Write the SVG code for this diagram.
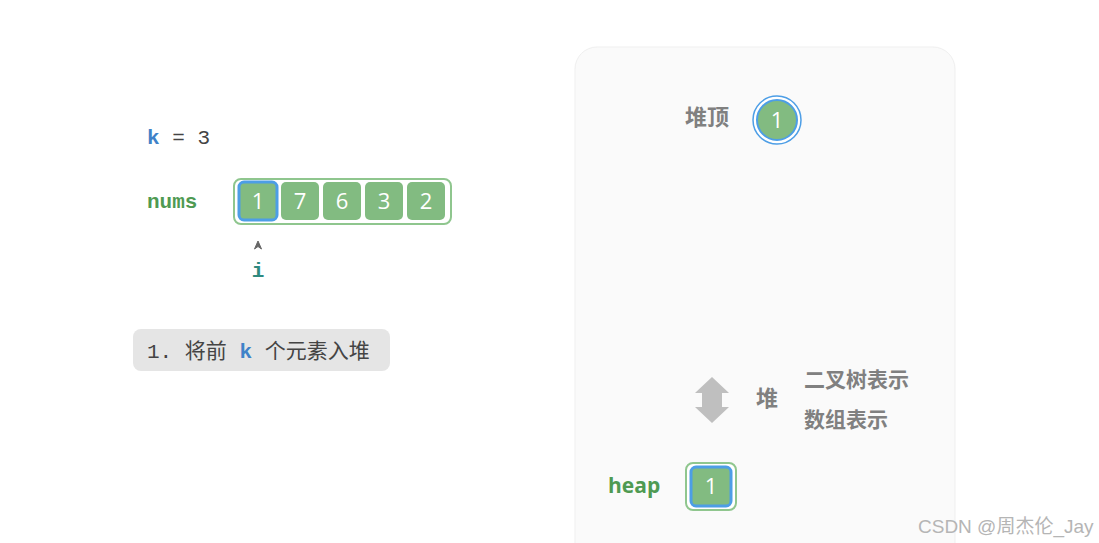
<svg xmlns="http://www.w3.org/2000/svg" width="1099" height="543" viewBox="0 0 1099 543">
<style>
.mono{font-family:"Liberation Mono","DejaVu Sans Mono","Noto Sans CJK SC",monospace}
.cjk{font-family:"Noto Sans CJK SC","Liberation Sans",sans-serif;font-weight:bold;fill:#808080}
.cell{fill:#82bb81;stroke:none}
.num{font-family:"Open Sans","Liberation Sans",sans-serif;font-size:22px;fill:#ffffff;text-anchor:middle}
.green{fill:#4f9a52;font-weight:bold}
</style>
<rect x="0" y="0" width="1099" height="543" fill="#ffffff"/>
<rect x="575" y="47" width="380" height="530" rx="22" fill="#fafafa" stroke="#efefef" stroke-width="1"/>

<g id="k-label">
<text class="mono" x="147" y="144" font-size="21"><tspan fill="#3f82c8" font-weight="bold">k</tspan><tspan fill="#444444"> = 3</tspan></text>
</g>

<g id="nums">
<text class="mono green" x="147" y="208" font-size="21">nums</text>
<rect x="234" y="179" width="217" height="45" rx="7" fill="#ffffff" stroke="#8fc68e" stroke-width="2"/>
<rect class="cell" x="239" y="182" width="38" height="38" rx="5" style="stroke:#4d9ee6;stroke-width:3"/>
<rect class="cell" x="281" y="182" width="38" height="38" rx="5"/>
<rect class="cell" x="323" y="182" width="38" height="38" rx="5"/>
<rect class="cell" x="365" y="182" width="38" height="38" rx="5"/>
<rect class="cell" x="407" y="182" width="38" height="38" rx="5"/>
<text class="num" x="258" y="209">1</text>
<text class="num" x="300" y="209">7</text>
<text class="num" x="342" y="209">6</text>
<text class="num" x="384" y="209">3</text>
<text class="num" x="426" y="209">2</text>
</g>

<g id="pointer-i">
<path d="M254.5 249 L258 241 L261.5 249 L258 246.5 Z" fill="#666666" stroke="#666666" stroke-width="1" stroke-linejoin="round"/>
<text class="mono" x="258" y="277" font-size="21" font-weight="bold" fill="#2f8a7f" text-anchor="middle">i</text>
</g>

<g id="step-label">
<rect x="133" y="329" width="257" height="42" rx="8" fill="#e5e5e5"/>
<text class="mono" x="147" y="358" font-size="21" fill="#444444">1. 将前 <tspan fill="#3f82c8" font-weight="bold">k</tspan> 个元素入堆</text>
</g>

<g id="heap-top">
<text class="cjk" x="685" y="125" font-size="22">堆顶</text>
<circle cx="777" cy="120" r="24" fill="#ffffff" stroke="#4d9ee6" stroke-width="1.5"/>
<circle cx="777" cy="120" r="20" fill="#82bb81" stroke="#4d9ee6" stroke-width="2"/>
<text class="num" x="777" y="128">1</text>
</g>

<g id="connectors">
<polygon points="712,377 729,393 722,393 722,407 729,407 712,423 695,407 702,407 702,393 695,393" fill="#bfbfbf"/>
</g>

<g id="heap-labels">
<text class="cjk" x="756" y="406" font-size="22">堆</text>
<text class="cjk" x="804" y="387" font-size="21">二叉树表示</text>
<text class="cjk" x="804" y="427" font-size="21">数组表示</text>
</g>

<g id="heap-array">
<text x="608" y="493" font-family="'Open Sans','Liberation Sans',sans-serif" font-size="21" class="green">heap</text>
<rect x="686" y="463" width="50" height="47" rx="7" fill="#ffffff" stroke="#8fc68e" stroke-width="2"/>
<rect x="691" y="467" width="40" height="39" rx="5" fill="#82bb81" stroke="#4d9ee6" stroke-width="3"/>
<text class="num" x="711" y="494">1</text>
</g>

<text x="918" y="533" font-family="'Liberation Sans','Noto Sans CJK SC',sans-serif" font-size="19" fill="#b5b5b5">CSDN @周杰伦_Jay</text>
</svg>
